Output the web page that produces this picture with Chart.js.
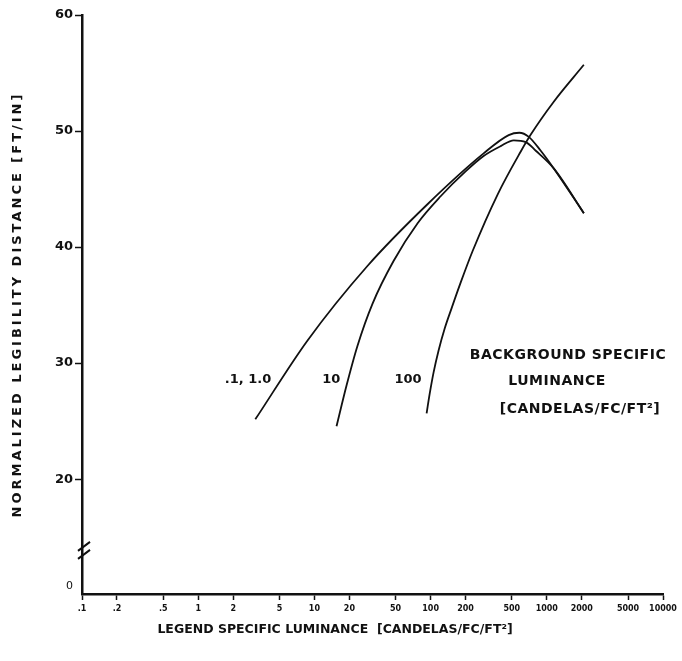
<!DOCTYPE html>
<html>
<head>
<meta charset="utf-8">
<script src="https://cdn.jsdelivr.net/npm/chart.js@4/dist/chart.umd.min.js"></script>
<style>
  html, body { margin: 0; padding: 0; background: #fff; }
</style>
</head>
<body>
<canvas id="chart" width="682" height="661"></canvas>
<script>
// axis ticks
const xTicks = [0.1, 0.2, 0.5, 1, 2, 5, 10, 20, 50, 100, 200, 500, 1000, 2000, 5000, 10000];
const xTickLabels = ['.1', '.2', '.5', '1', '2', '5', '10', '20', '50', '100', '200', '500', '1000', '2000', '5000', '10000'];
const yTicks = [10.8, 20, 30, 40, 50, 60];
const yTickLabels = ['0', '20', '30', '40', '50', '60'];

// background .1 and 1.0 (same curve)
const bgLowLum  = [3.1, 8.7, 28.6, 94, 286, 470, 580, 700, 887, 1148, 2084];
const bgLowDist = [25.15, 31.93, 38.37, 43.69, 48.07, 49.65, 49.85, 49.5, 48.3, 46.78, 42.92];

// background 10
const bg10Lum  = [15.5, 18.9, 23.5, 31.6, 48, 77.3, 122, 200, 286, 401, 520, 659, 804, 1148, 2084];
const bg10Dist = [24.55, 28.07, 31.5, 35.11, 38.8, 42.06, 44.38, 46.52, 47.85, 48.7, 49.2, 49.05, 48.3, 46.78, 42.92];

// background 100
const bg100Lum  = [92.4, 98, 106, 117, 132, 152, 181, 230, 378, 597, 728, 1148, 2084];
const bg100Dist = [25.67, 27.3, 29.18, 31.07, 32.96, 34.76, 36.91, 39.66, 44.55, 48.24, 49.7, 52.53, 55.71];

const curveLabels = ['.1, 1.0', '10', '100'];
const legendLines = ['BACKGROUND SPECIFIC', 'LUMINANCE', '[CANDELAS/FC/FT\u00B2]'];
const xTitle = 'LEGEND SPECIFIC LUMINANCE  [CANDELAS/FC/FT\u00B2]';
const yTitle = 'NORMALIZED LEGIBILITY DISTANCE [FT/IN]';

function pts(xs, ys) {
  return xs.map((x, i) => ({ x: x, y: ys[i] }));
}

function curve(label, xs, ys) {
  return {
    label: label,
    data: pts(xs, ys),
    showLine: true,
    borderColor: '#111',
    borderWidth: 1.8,
    pointRadius: 0,
    cubicInterpolationMode: 'monotone',
    fill: false
  };
}

// text drawn on top: curve labels, background legend, axis titles, axis break
const textPlugin = {
  id: 'texts',
  afterDraw(chart) {
    const ctx = chart.ctx;
    const xs = chart.scales.x, ys = chart.scales.y;
    ctx.save();
    ctx.fillStyle = '#111';
    ctx.strokeStyle = '#111';

    // axis break marks
    const bx = xs.left, by = ys.getPixelForValue(13.9);
    ctx.lineWidth = 2;
    ctx.beginPath();
    ctx.moveTo(bx - 4, by + 1); ctx.lineTo(bx + 8, by - 8);
    ctx.moveTo(bx - 4, by + 9); ctx.lineTo(bx + 8, by);
    ctx.stroke();

    // curve labels
    ctx.font = 'bold 13px "DejaVu Sans"';
    ctx.textAlign = 'right';
    ctx.textBaseline = 'middle';
    const ly = ys.getPixelForValue(28.6);
    ctx.fillText(curveLabels[0], xs.getPixelForValue(4.26), ly);
    ctx.fillText(curveLabels[1], xs.getPixelForValue(16.7), ly);
    ctx.fillText(curveLabels[2], xs.getPixelForValue(83.6), ly);

    // background legend
    ctx.textAlign = 'center';
    ctx.font = 'bold 14px "DejaVu Sans"';
    ctx.letterSpacing = '0.5px';
    ctx.fillText(legendLines[0], 568, 355);
    ctx.fillText(legendLines[1], 557, 381);
    ctx.fillText(legendLines[2], 580, 409);

    // x title
    ctx.font = 'bold 12.5px "DejaVu Sans"';
    ctx.letterSpacing = '0px';
    ctx.fillText(xTitle, 335, 630);

    // y title
    ctx.save();
    ctx.translate(18, (ys.top + ys.bottom) / 2);
    ctx.rotate(-Math.PI / 2);
    ctx.font = 'bold 13px "DejaVu Sans"';
    ctx.letterSpacing = '3px';
    ctx.fillText(yTitle, 0, 0);
    ctx.restore();

    ctx.restore();
  }
};

new Chart(document.getElementById('chart'), {
  type: 'scatter',
  data: {
    datasets: [
      curve('.1, 1.0', bgLowLum, bgLowDist),
      curve('10', bg10Lum, bg10Dist),
      curve('100', bg100Lum, bg100Dist)
    ]
  },
  options: {
    responsive: false,
    animation: false,
    devicePixelRatio: 1,
    layout: { padding: { top: 15, right: 19, left: 0, bottom: 0 } },
    plugins: {
      legend: { display: false },
      tooltip: { enabled: false }
    },
    scales: {
      x: {
        type: 'logarithmic',
        min: 0.1,
        max: 10000,
        afterBuildTicks: s => { s.ticks = xTicks.map(v => ({ value: v })); },
        afterFit: s => { s.height = 67; },
        border: { display: true, color: '#111', width: 2.5 },
        grid: { drawOnChartArea: false, drawTicks: true, tickLength: 6, tickColor: '#111', tickWidth: 1.5 },
        ticks: {
          autoSkip: false,
          maxRotation: 0,
          padding: 4,
          color: '#111',
          font: { family: 'DejaVu Sans', size: 8, weight: 'bold' },
          callback: v => xTickLabels[xTicks.indexOf(v)]
        }
      },
      y: {
        type: 'linear',
        min: 10.1,
        max: 60,
        afterBuildTicks: s => { s.ticks = yTicks.map(v => ({ value: v })); },
        afterFit: s => { s.width = 82; },
        border: { display: true, color: '#111', width: 2.5 },
        grid: {
          drawOnChartArea: false,
          drawTicks: true,
          tickLength: 7,
          tickWidth: 1.5,
          tickColor: c => (c.tick && c.tick.value < 15) ? 'rgba(0,0,0,0)' : '#111'
        },
        ticks: {
          padding: 2,
          color: '#111',
          font: c => (c.tick && c.tick.value < 15)
            ? { family: 'DejaVu Sans', size: 11, weight: 'normal' }
            : { family: 'DejaVu Sans', size: 13, weight: 'bold' },
          callback: v => yTickLabels[yTicks.indexOf(v)]
        }
      }
    }
  },
  plugins: [textPlugin]
});
</script>
</body>
</html>
